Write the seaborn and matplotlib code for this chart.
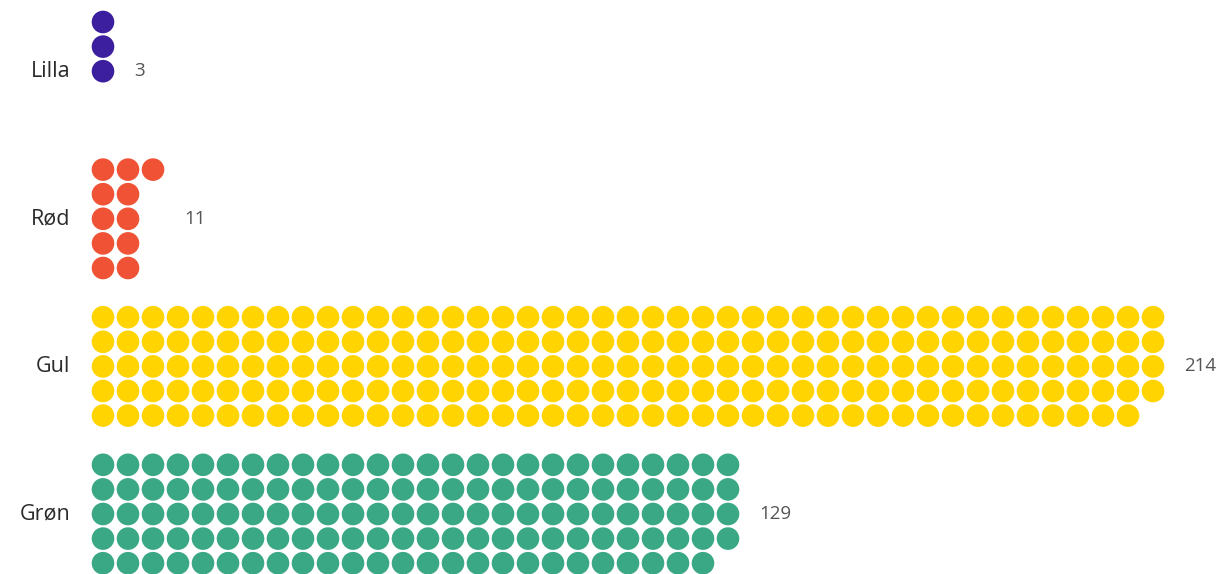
import numpy as np
import pandas as pd
import seaborn as sns
import matplotlib.pyplot as plt

categories = ['Lilla', 'Rød', 'Gul', 'Grøn']
counts = [3, 11, 214, 129]
colors = ['#3b1f9e', '#ef5234', '#ffd400', '#3aa885']

ROWS = 5      # dots per column
GROUP = 6     # row slots per category (5 rows + 1 gap)

# build one row per dot, filled column by column, top to bottom
records = []
for g, (cat, n) in enumerate(zip(categories, counts)):
    for i in range(n):
        records.append({'category': cat,
                        'col': i // ROWS,
                        'row': g * GROUP + i % ROWS})
df = pd.DataFrame(records)

sns.set_theme(style='white')
plt.rcParams['font.family'] = ['Open Sans', 'DejaVu Sans']

fig = plt.figure(figsize=(12.26, 5.74), dpi=100)
ax = fig.add_axes([0, 0, 1, 1])

sns.scatterplot(data=df, x='col', y='row', hue='category',
                hue_order=categories, palette=colors,
                s=265, linewidth=0, legend=False, ax=ax)

# map data units to the reference pixel grid (25 px across, 24.6 px down)
ax.set_xlim(-103 / 25, (1226 - 103) / 25)
ax.set_ylim((574 - 22) / 24.6, -22 / 24.6)
ax.set_axis_off()

for g, (cat, n) in enumerate(zip(categories, counts)):
    mid = g * GROUP + 2
    last_col = (n - 1) // ROWS
    ax.text(-1.3, mid, cat, ha='right', va='center',
            fontsize=15.5, color='#2b2b2b')
    ax.text(last_col + 1.25, mid, str(n), ha='left', va='center',
            fontsize=13.5, color='#555555')

fig.savefig('out.png', dpi=100, facecolor='white')
